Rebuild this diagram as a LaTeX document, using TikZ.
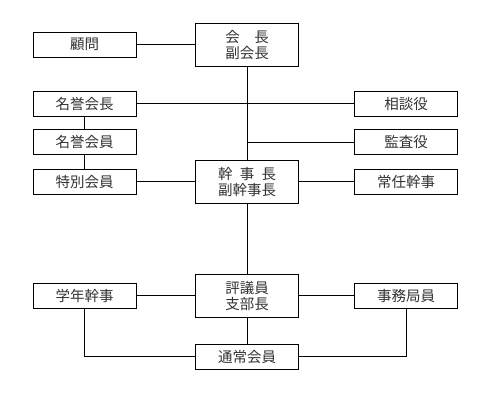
\documentclass[tikz,border=0pt]{standalone}
\usepackage{fontspec}
\newfontfamily\cjk{Noto Sans CJK JP}
\begin{document}
\begin{tikzpicture}[x=1pt,y=-1pt,
  box/.style={draw=black,line width=0.9pt,fill=white,minimum width=103pt,minimum height=25pt,inner sep=0pt,align=center,text=black!80,font=\cjk\fontsize{14.5pt}{16pt}\selectfont},
  bigbox/.style={box,minimum height=43pt},
  conn/.style={draw=black,line width=0.9pt}]
\useasboundingbox (0,0) rectangle (500,400);
\node[box] (komon) at (84.5,44.8) {顧問};
\node[bigbox] (kaicho) at (247,44.8) {\makebox[3em][s]{会\hfill 長}\\副会長};
\node[box] (meiyokaicho) at (84.5,103.6) {名誉会長};
\node[box] (meiyokaiin) at (84.5,142) {名誉会員};
\node[box] (tokubetsu) at (84.5,181.6) {特別会員};
\node[bigbox] (kanji) at (247,181.6) {\makebox[4em][s]{幹\hfill 事\hfill 長}\\副幹事長};
\node[box] (sodan) at (406,103.6) {相談役};
\node[box] (kansa) at (406,142) {監査役};
\node[box] (jonin) at (406,181.6) {常任幹事};
\node[bigbox] (hyogi) at (247,295.8) {評議員\\支部長};
\node[box] (gakunen) at (84.5,295.8) {学年幹事};
\node[box] (jimu) at (406,295.8) {事務局員};
\node[box] (tsujo) at (247,356.8) {通常会員};
\coordinate (kansaj) at (kansa.west -| kaicho.south);
\path[conn] (komon) -- (kaicho);
\path[conn] (kaicho) -- (kanji);
\path[conn] (meiyokaicho) -- (sodan);
\path[conn] (kansaj) -- (kansa);
\path[conn] (meiyokaicho) -- (meiyokaiin);
\path[conn] (meiyokaiin) -- (tokubetsu);
\path[conn] (tokubetsu) -- (kanji);
\path[conn] (kanji) -- (jonin);
\path[conn] (kanji) -- (hyogi);
\path[conn] (gakunen) -- (hyogi);
\path[conn] (hyogi) -- (jimu);
\path[conn] (hyogi) -- (tsujo);
\path[conn] (gakunen.south) |- (tsujo.west);
\path[conn] (jimu.south) |- (tsujo.east);
\end{tikzpicture}
\end{document}
